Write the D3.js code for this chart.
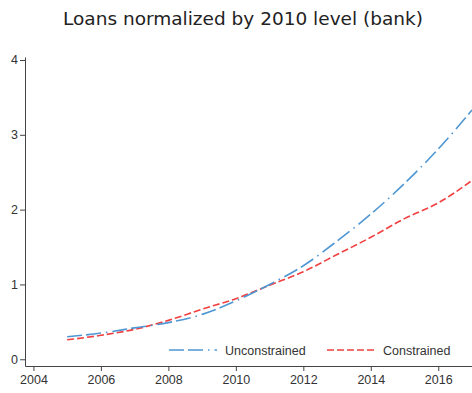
<!DOCTYPE html>
<html>
<head>
<meta charset="utf-8">
<script src="https://cdn.jsdelivr.net/npm/d3@7"></script>
<style>
  body { margin: 0; background: #fff; }
  svg { display: block; }
</style>
</head>
<body>
<div id="chart"></div>
<script>
// data
var years = [2005, 2006, 2007, 2008, 2009, 2010, 2011, 2012, 2013, 2014, 2015, 2016, 2017];
var unconstrained = [0.30, 0.35, 0.42, 0.49, 0.60, 0.78, 1.00, 1.25, 1.58, 1.94, 2.35, 2.81, 3.33];
var constrained   = [0.26, 0.32, 0.40, 0.52, 0.67, 0.81, 0.99, 1.17, 1.40, 1.63, 1.88, 2.09, 2.39];
var xTicks = [2004, 2006, 2008, 2010, 2012, 2014, 2016];
var yTicks = [0, 1, 2, 3, 4];

var W = 472, H = 393;
var margin = {top: 57, right: 0, bottom: 27, left: 25};

var svg = d3.select("#chart")
  .append("svg")
    .attr("width", W)
    .attr("height", H);

// title
svg.append("text")
  .attr("x", 243)
  .attr("y", 25)
  .attr("text-anchor", "middle")
  .style("font-family", "'DejaVu Sans', sans-serif")
  .style("font-size", "18.5px")
  .style("fill", "#222")
  .text("Loans normalized by 2010 level (bank)");

var x = d3.scaleLinear()
  .domain([2003.75, 2017])
  .range([margin.left, W - margin.right]);

var y = d3.scaleLinear()
  .domain([-0.09, 4.04])
  .range([H - margin.bottom, margin.top]);

// X axis
var gx = svg.append("g")
  .attr("transform", "translate(0," + (H - margin.bottom) + ")")
  .call(d3.axisBottom(x).tickValues(xTicks).tickFormat(d3.format("d")).tickSize(5).tickSizeOuter(0));

// Y axis
var gy = svg.append("g")
  .attr("transform", "translate(" + margin.left + ",0)")
  .call(d3.axisLeft(y).tickValues(yTicks).tickFormat(d3.format("d")).tickSize(5).tickSizeOuter(0));

[gx, gy].forEach(function(g) {
  g.select(".domain").attr("stroke", "#444").attr("stroke-width", 1);
  g.selectAll(".tick line").attr("stroke", "#444");
  g.selectAll(".tick text")
    .style("font-family", "'Liberation Sans', Arial, sans-serif")
    .style("font-size", "12.5px")
    .style("fill", "#333");
});
gy.selectAll(".tick text").attr("x", -7);
gx.selectAll(".tick text").attr("y", 9);

var blue = "#4f97d3", red = "#f0403f";
var blueDash = "15,4,15,5,1.5,5", redDash = "7,3";

var line = function(vals) {
  return d3.line()
    .x(function(d, i) { return x(years[i]); })
    .y(function(d) { return y(d); })
    .curve(d3.curveMonotoneX)(vals);
};

svg.append("path")
  .attr("d", line(constrained))
  .attr("fill", "none")
  .attr("stroke", red)
  .attr("stroke-width", 1.6)
  .attr("stroke-dasharray", redDash);

svg.append("path")
  .attr("d", line(unconstrained))
  .attr("fill", "none")
  .attr("stroke", blue)
  .attr("stroke-width", 1.6)
  .attr("stroke-dasharray", blueDash);

// legend
var legend = [
  {name: "Unconstrained", color: blue, dash: blueDash, x: 169},
  {name: "Constrained", color: red, dash: redDash, x: 327}
];
var lg = svg.append("g").attr("transform", "translate(0,350)");
legend.forEach(function(l) {
  lg.append("line")
    .attr("x1", l.x).attr("x2", l.x + 48)
    .attr("y1", 0).attr("y2", 0)
    .attr("stroke", l.color)
    .attr("stroke-width", 1.6)
    .attr("stroke-dasharray", l.dash);
  lg.append("text")
    .attr("x", l.x + 56)
    .attr("y", 4.5)
    .style("font-family", "'Liberation Sans', Arial, sans-serif")
    .style("font-size", "12.5px")
    .style("fill", "#333")
    .text(l.name);
});
</script>
</body>
</html>
